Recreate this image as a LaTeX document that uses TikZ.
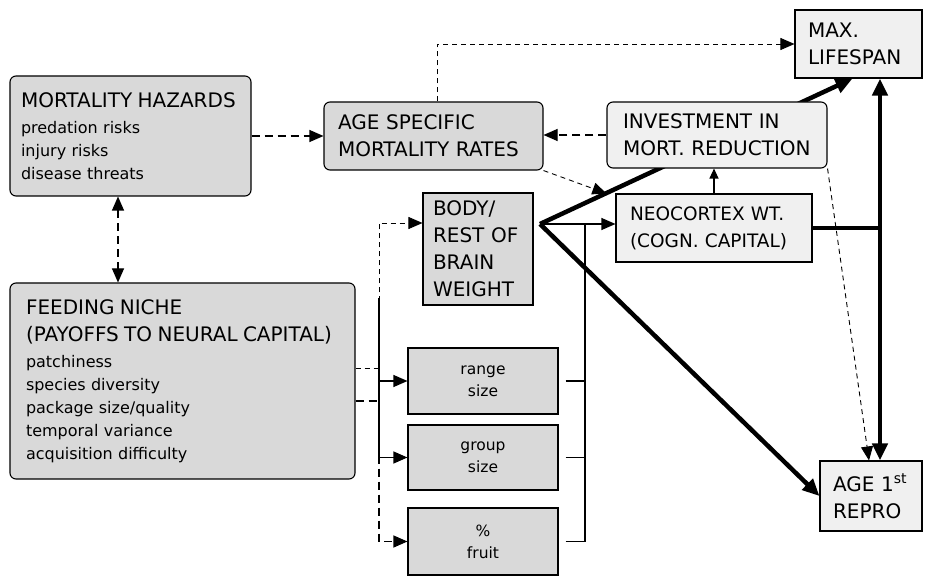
\documentclass[tikz,border=0pt]{standalone}
\usepackage{fontspec}
\setmainfont{DejaVu Sans}
\usetikzlibrary{arrows.meta, backgrounds}

\newcommand{\headfont}{\fontsize{20}{27}\selectfont}
\newcommand{\itemfont}{\fontsize{16}{23}\selectfont}

\begin{document}
\begin{tikzpicture}[
    x=1pt, y=-1pt,
    box/.style={rectangle, draw, line width=1.1pt, fill=black!15, inner ysep=0pt, align=left, font=\headfont},
    lightbox/.style={box, fill=black!6},
    roundbox/.style={box, rounded corners=6pt},
    smallbox/.style={box, align=center, minimum width=150pt, font=\fontsize{15.5}{22}\selectfont},
    thinarrow/.style={line width=1.1pt, -{Triangle[length=14pt, width=12pt]}},
    dasharrow/.style={thinarrow, dash pattern=on 8pt off 5pt},
    finearrow/.style={thinarrow, line width=0.9pt, dash pattern=on 5pt off 4pt},
    boldarrow/.style={line width=4.5pt, -{Triangle[length=17pt, width=15pt]}}
]
    \useasboundingbox (0,0) rectangle (926,577);

    % Left column: hazards and niche
    \node[roundbox, font=\itemfont, inner xsep=11pt, text width=219pt, minimum height=120pt] (hazards) at (130.5,136)
        {\headfont MORTALITY~HAZARDS\\[3pt]\itemfont predation risks\\\itemfont injury risks\\\itemfont disease threats};
    \node[roundbox, font=\itemfont, inner xsep=16pt, text width=313pt, minimum height=196pt] (niche) at (182.5,381)
        {\headfont FEEDING~NICHE\\\headfont (PAYOFFS~TO~NEURAL~CAPITAL)\\[3pt]\itemfont patchiness\\\itemfont species diversity\\\itemfont package size/quality\\\itemfont temporal variance\\\itemfont acquisition difficulty};

    % Middle column
    \node[roundbox, inner xsep=14pt, text width=191pt, minimum height=68pt] (agerate) at (433.5,136) {AGE~SPECIFIC\\MORTALITY~RATES};
    \node[box, inner xsep=10pt, text width=90pt, minimum height=112pt] (body) at (478,249) {BODY/\\REST~OF\\BRAIN\\WEIGHT};
    \node[smallbox, minimum height=66pt] (range) at (483,381) {range\\size};
    \node[smallbox, minimum height=65pt] (group) at (483,457.5) {group\\size};
    \node[smallbox, minimum height=67pt] (fruit) at (483,541.5) {\%\\fruit};

    % Right column
    \node[lightbox, rounded corners=6pt, inner xsep=16pt, text width=188pt, minimum height=66pt] (invest) at (717,135) {INVESTMENT~IN\\MORT.~REDUCTION};
    \node[lightbox, font=\fontsize{18.5}{27}\selectfont, inner xsep=14pt, text width=168pt, minimum height=68pt] (neo) at (714,228) {NEOCORTEX~WT.\\(COGN.~CAPITAL)};
    \node[lightbox, inner xsep=13pt, text width=101pt, minimum height=68pt] (maxls) at (858.5,44) {MAX.\\LIFESPAN};
    \node[lightbox, inner xsep=13pt, text width=76pt, minimum height=70pt] (repro) at (871,496) {AGE~1\textsuperscript{st}\\REPRO};

    % Junction points
    \coordinate (apex) at (540,224);
    \coordinate (busL) at (379,223);
    \coordinate (busM) at (379,298);
    \coordinate (busR) at (585,224);
    \coordinate (spine) at (880,228);

    % Mortality links
    \draw[dasharrow] (hazards.east) -- (agerate.west);
    \draw[dasharrow, {Triangle[length=14pt, width=12pt]}-{Triangle[length=14pt, width=12pt]}] ([xshift=-12.5pt]hazards.south) -- ([xshift=-12.5pt]hazards.south |- niche.north);
    \draw[finearrow] ([xshift=4pt]agerate.north) |- (maxls.west);
    \draw[dasharrow] (invest.west) -- (invest.west -| agerate.east);
    \draw[finearrow] (agerate.south east) -- ([xshift=-9pt]neo.north west);
    \draw[finearrow] (invest.south east) -- ([xshift=-2pt]repro.north);
    \draw[thinarrow, -{Triangle[length=10pt, width=9pt]}] (neo.north) -- (neo.north |- invest.south);

    % Niche to the brain and ecology boxes
    \draw[finearrow] ([yshift=13pt]niche.east) -| (busL) -- (busL -| body.west);
    \draw[line width=1.1pt] (busM) -- (busM |- group.west);
    \draw[thinarrow] (busL |- range.west) -- (range.west);
    \draw[thinarrow] (busL |- group.west) -- (group.west);
    \draw[dasharrow] ([yshift=-20pt]niche.east) -| (busL |- fruit.west) -- (fruit.west);

    % Ecology boxes to neocortex
    \draw[line width=1.1pt] ([xshift=7pt]range.east) -- (range.east -| busR);
    \draw[line width=1.1pt] ([xshift=7pt]group.east) -- (group.east -| busR);
    \draw[line width=1.1pt] ([xshift=7pt]fruit.east) -| (busR);
    \draw[thinarrow] (apex) -- (apex -| neo.west);

    % Life history links (the lifespan line runs behind the investment box)
    \begin{pgfonlayer}{background}
        \draw[boldarrow] (apex) -- ([xshift=-6pt]maxls.south);
    \end{pgfonlayer}
    \draw[boldarrow] (apex) -- (repro.west);
    \draw[line width=4.5pt] (neo.east) -- (spine);
    \draw[boldarrow] (spine) -- (spine |- maxls.south);
    \draw[boldarrow] (spine) -- (spine |- repro.north);
\end{tikzpicture}
\end{document}
